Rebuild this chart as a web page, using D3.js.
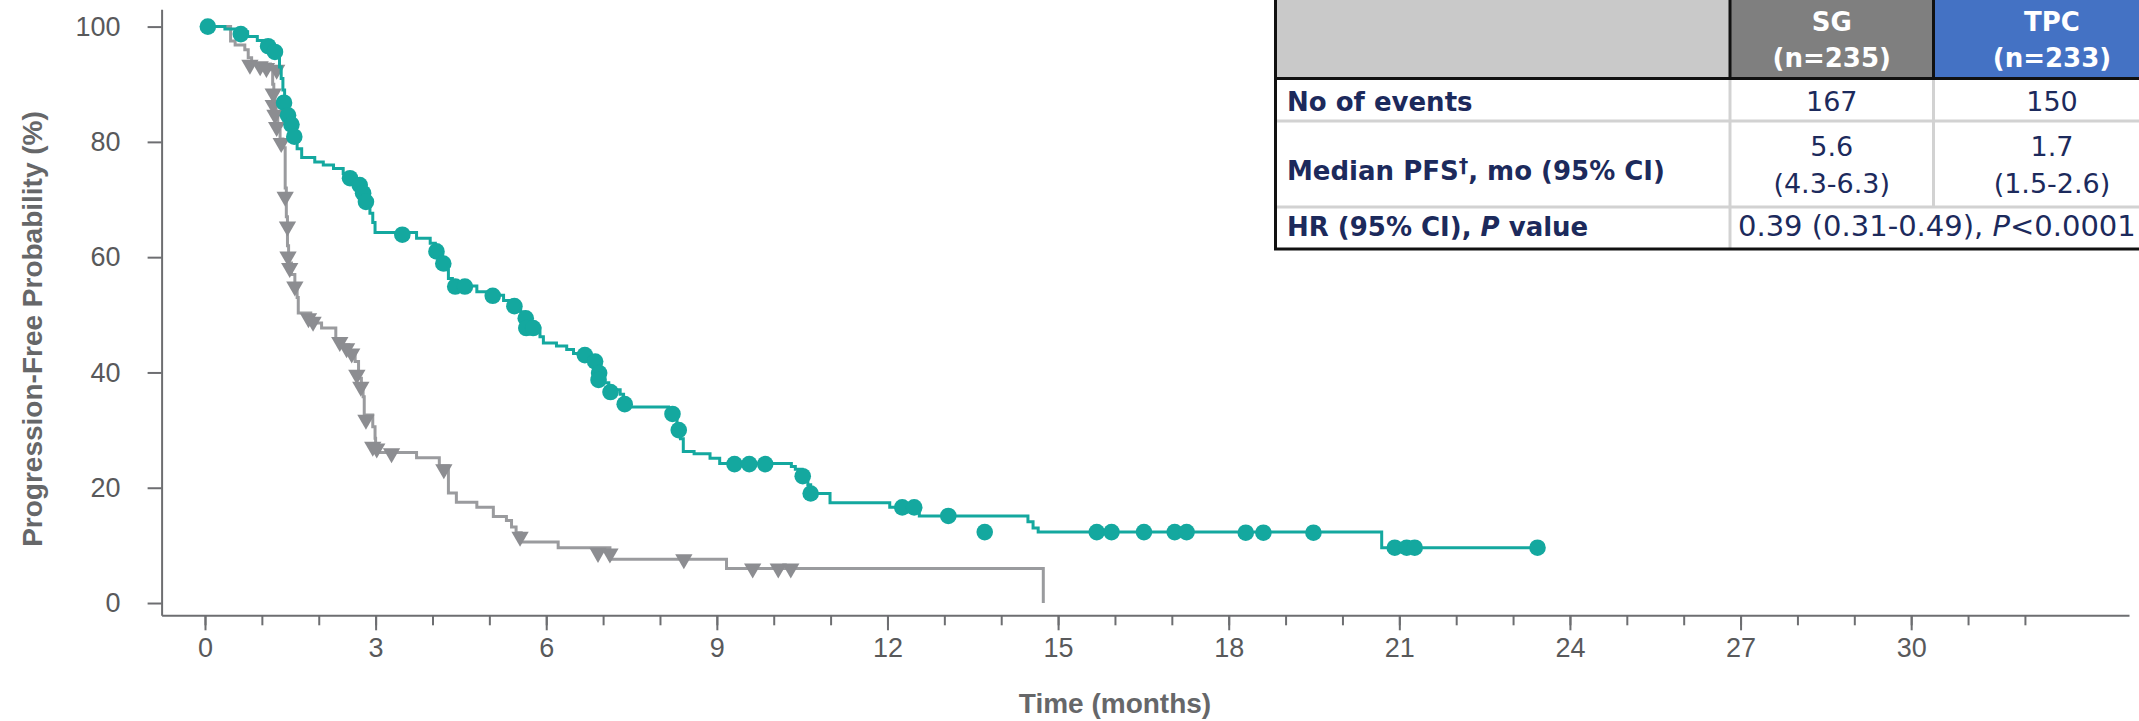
<!DOCTYPE html>
<html>
<head>
<meta charset="utf-8">
<script src="https://cdn.jsdelivr.net/npm/d3@7"></script>
<style>
  body { margin: 0; background: #fff; }
  svg { display: block; }
</style>
</head>
<body>
<div id="chart"></div>
<script>
// SG (teal) Kaplan-Meier steps
const sgStepTime = [0, 0.35, 0.55, 0.75, 0.92, 1.05, 1.17, 1.28, 1.31, 1.34, 1.37, 1.40, 1.45, 1.50, 1.54, 1.58, 1.62, 1.70,
  1.93, 2.08, 2.26, 2.43, 2.58, 2.70, 2.78, 2.84, 2.90, 2.95, 2.99, 3.72, 3.96, 4.05, 4.12, 4.18, 4.23, 4.28, 4.35,
  4.78, 5.00, 5.25, 5.40, 5.55, 5.62, 5.66, 5.70, 5.89, 5.95, 6.18, 6.36, 6.48, 6.72, 6.85, 6.90, 6.93, 7.00, 7.10,
  7.30, 7.36, 7.42, 8.15, 8.25, 8.30, 8.36, 8.41, 8.60, 8.88, 9.05, 10.31, 10.38, 10.50, 10.60, 10.65, 10.99, 12.04,
  12.56, 14.47, 14.56, 14.65, 20.69, 23.43];
const sgStepSurv = [100, 99.6, 99.1, 98.3, 97.6, 96.8, 96.0, 94.8, 93.0, 91.0, 89.0, 87.0, 85.2, 83.5, 81.8, 80.2, 78.8, 77.3,
  76.5, 76.0, 75.4, 74.5, 73.3, 72.0, 70.6, 69.2, 67.6, 66.0, 64.3, 63.3, 62.4, 61.3, 60.2, 59.2, 57.8, 56.3, 55.0,
  54.0, 53.4, 52.5, 51.6, 50.5, 49.5, 48.6, 47.7, 46.2, 45.1, 44.6, 44.0, 43.3, 42.6, 41.8, 40.5, 39.3, 38.2, 37.0,
  36.2, 35.0, 34.0, 33.3, 32.3, 30.5, 28.5, 26.3, 25.9, 25.1, 24.2, 23.7, 23.2, 22.2, 20.5, 19.0, 17.4, 16.6,
  15.1, 14.1, 13.0, 12.3, 9.6, 9.6];
const sgCensorTime = [0.05, 0.63, 1.11, 1.23, 1.39, 1.46, 1.52, 1.57, 2.55, 2.72, 2.78, 2.83, 3.47, 4.07, 4.19, 4.40, 4.57,
  5.06, 5.44, 5.64, 5.65, 5.77, 6.68, 6.86, 6.93, 6.92, 7.13, 7.38, 8.22, 8.33, 9.31, 9.57, 9.85, 10.51, 10.65,
  12.26, 12.47, 13.07, 13.71, 15.68, 15.94, 16.51, 17.05, 17.26, 18.30, 18.61, 19.49, 20.92, 21.13, 21.27, 23.43];
const sgCensorSurv = [100, 98.7, 96.6, 95.6, 86.8, 84.6, 83.0, 80.9, 73.7, 72.5, 71.1, 69.6, 63.9, 61.0, 58.9, 54.9, 54.9,
  53.3, 51.5, 49.4, 47.7, 47.7, 43.0, 41.9, 39.9, 38.7, 36.6, 34.5, 32.8, 30.0, 24.1, 24.1, 24.1, 22.0, 19.0,
  16.6, 16.6, 15.1, 12.3, 12.3, 12.3, 12.3, 12.3, 12.3, 12.2, 12.2, 12.2, 9.6, 9.6, 9.6, 9.6];

// TPC (grey) Kaplan-Meier steps
const tpcStepTime = [0, 0.45, 0.53, 0.70, 0.76, 0.82, 1.15, 1.19, 1.21, 1.23, 1.25, 1.28, 1.32, 1.37, 1.41, 1.43, 1.45,
  1.47, 1.52, 1.58, 1.62, 1.64, 1.86, 1.95, 2.05, 2.30, 2.43, 2.53, 2.64, 2.70, 2.75, 2.78, 2.80, 2.95, 2.99, 3.00,
  3.72, 4.12, 4.28, 4.42, 4.78, 5.07, 5.30, 5.39, 5.47, 5.56, 6.21, 7.12, 9.17, 14.74];
const tpcStepSurv = [100, 97.5, 96.8, 96.0, 94.6, 93.5, 92.5, 90.0, 88.0, 86.0, 84.0, 82.0, 80.5, 79.0, 72.0, 67.0, 62.0,
  59.0, 57.0, 55.0, 53.0, 50.3, 49.3, 48.6, 47.7, 45.9, 44.8, 43.8, 41.9, 39.0, 37.2, 35.8, 32.6, 30.6, 28.6, 26.1,
  25.2, 23.8, 19.1, 17.5, 16.6, 15.0, 14.3, 13.2, 12.2, 10.6, 9.6, 7.6, 6.0, 0];
const tpcCensorTime = [0.79, 0.97, 1.08, 1.26, 1.20, 1.20, 1.23, 1.26, 1.34, 1.41, 1.45, 1.46, 1.49, 1.58, 1.82, 1.90,
  2.37, 2.49, 2.58, 2.67, 2.74, 2.83, 2.95, 3.02, 3.28, 4.20, 5.54, 6.91, 7.12, 8.42, 9.63, 10.08, 10.30];
const tpcCensorSurv = [93.4, 93.1, 92.8, 92.5, 88.4, 86.4, 84.7, 82.6, 79.8, 70.5, 65.3, 60.1, 58.1, 54.9, 49.4, 48.8,
  45.3, 44.2, 43.3, 39.6, 37.5, 31.8, 27.1, 26.8, 26.0, 23.2, 11.5, 8.7, 8.6, 7.6, 6.0, 6.0, 6.0];

const yTicks = [0, 20, 40, 60, 80, 100];
const xMajorTicks = [0, 3, 6, 9, 12, 15, 18, 21, 24, 27, 30];
const xMinorTicks = d3.range(0, 33);

// summary table
const tableColumns = ["SG", "TPC"];
const tableColumnN = ["(n=235)", "(n=233)"];
const rowLabels = ["No of events", "Median PFS†, mo (95% CI)", "HR (95% CI), P value"];
const eventsValues = ["167", "150"];
const medianValues = ["5.6", "1.7"];
const medianCI = ["(4.3-6.3)", "(1.5-2.6)"];
const hrValue = "0.39 (0.31-0.49), P<0.0001";

const width = 2139, height = 721;
const teal = "#14a89f", greyLine = "#9a9b9e", greyMark = "#8c8d91", axisCol = "#6d6e71", textCol = "#58595b";
const navy = "#1c2a5c";

const svg = d3.select("#chart").append("svg")
  .attr("width", width).attr("height", height)
  .style("background", "#fff");

const x = d3.scaleLinear().domain([-0.763, 33.83]).range([161.6, 2129]);
const y = d3.scaleLinear().domain([-2.13, 103]).range([615.3, 9.3]);

// axes
const yAxis = svg.append("g").attr("transform", "translate(" + x.range()[0] + ",0)")
  .call(d3.axisLeft(y).tickValues(yTicks).tickSize(14).tickSizeOuter(0).tickPadding(27));
const xAxis = svg.append("g").attr("transform", "translate(0," + y.range()[0] + ")")
  .call(d3.axisBottom(x).tickValues(xMajorTicks).tickSize(15).tickSizeOuter(0).tickPadding(8));
const xMinor = svg.append("g").attr("transform", "translate(0," + y.range()[0] + ")")
  .call(d3.axisBottom(x).tickValues(xMinorTicks).tickSize(10).tickSizeOuter(0).tickFormat(""));
xMinor.select(".domain").remove();

[yAxis, xAxis, xMinor].forEach(g => {
  g.selectAll(".domain, line").attr("stroke", axisCol).attr("stroke-width", 2);
  g.selectAll("text").attr("fill", textCol)
    .style("font-family", "'Liberation Sans', Arial, sans-serif").style("font-size", "27px");
});

svg.append("text")
  .attr("transform", "translate(42,329) rotate(-90)")
  .attr("text-anchor", "middle")
  .style("font-family", "'Liberation Sans', Arial, sans-serif").style("font-size", "28px").style("font-weight", "bold")
  .attr("fill", "#666769")
  .text("Progression-Free Probability (%)");

svg.append("text")
  .attr("x", 1115).attr("y", 713)
  .attr("text-anchor", "middle")
  .style("font-family", "'Liberation Sans', Arial, sans-serif").style("font-size", "28px").style("font-weight", "bold")
  .attr("fill", "#666769")
  .text("Time (months)");

// curves
const stepLine = d3.line().x(d => x(d[0])).y(d => y(d[1])).curve(d3.curveStepAfter);
const tpcSteps = tpcStepTime.map((t, i) => [t, tpcStepSurv[i]]);
const sgSteps = sgStepTime.map((t, i) => [t, sgStepSurv[i]]);

svg.append("path").datum(tpcSteps)
  .attr("d", stepLine).attr("fill", "none").attr("stroke", greyLine).attr("stroke-width", 3);

const tri = d3.symbol().type(d3.symbolTriangle).size(130);
svg.append("g").selectAll("path")
  .data(tpcCensorTime.map((t, i) => [t, tpcCensorSurv[i]]))
  .join("path")
  .attr("d", tri)
  .attr("transform", d => "translate(" + x(d[0]) + "," + y(d[1]) + ") rotate(180)")
  .attr("fill", greyMark);

svg.append("path").datum(sgSteps)
  .attr("d", stepLine).attr("fill", "none").attr("stroke", teal).attr("stroke-width", 3);

svg.append("g").selectAll("circle")
  .data(sgCensorTime.map((t, i) => [t, sgCensorSurv[i]]))
  .join("circle")
  .attr("cx", d => x(d[0])).attr("cy", d => y(d[1])).attr("r", 8.3)
  .attr("fill", teal);

// table
const colX = [1275.5, 1730, 1933.5, 2172];
const rowY = [-3, 78.5, 121, 207, 249];
const tbl = svg.append("g").style("font-family", "'DejaVu Sans', Verdana, sans-serif");

tbl.append("rect").attr("x", colX[0]).attr("y", rowY[0]).attr("width", colX[3] - colX[0]).attr("height", rowY[4] - rowY[0])
  .attr("fill", "#fff");
const headFill = ["#c9c9c9", "#7f7f7f", "#4472c4"];
headFill.forEach((c, i) => {
  tbl.append("rect").attr("x", colX[i]).attr("y", rowY[0]).attr("width", colX[i + 1] - colX[i])
    .attr("height", rowY[1] - rowY[0]).attr("fill", c);
});
// light inner grid
[rowY[2], rowY[3]].forEach(yy => {
  tbl.append("line").attr("x1", colX[0]).attr("x2", colX[3]).attr("y1", yy).attr("y2", yy)
    .attr("stroke", "#d2d2d2").attr("stroke-width", 3);
});
tbl.append("line").attr("x1", colX[1]).attr("x2", colX[1]).attr("y1", rowY[1]).attr("y2", rowY[4])
  .attr("stroke", "#d2d2d2").attr("stroke-width", 3);
tbl.append("line").attr("x1", colX[2]).attr("x2", colX[2]).attr("y1", rowY[1]).attr("y2", rowY[3])
  .attr("stroke", "#d2d2d2").attr("stroke-width", 3);
// black borders
[[colX[1], colX[1], rowY[0], rowY[1]], [colX[2], colX[2], rowY[0], rowY[1]],
 [colX[0], colX[3], rowY[1], rowY[1]]].forEach(l => {
  tbl.append("line").attr("x1", l[0]).attr("x2", l[1]).attr("y1", l[2]).attr("y2", l[3])
    .attr("stroke", "#111").attr("stroke-width", 3);
});
tbl.append("rect").attr("x", colX[0]).attr("y", rowY[0]).attr("width", colX[3] - colX[0]).attr("height", rowY[4] - rowY[0])
  .attr("fill", "none").attr("stroke", "#111").attr("stroke-width", 3);

const colMid = [(colX[1] + colX[2]) / 2, 2052];
tableColumns.forEach((c, i) => {
  tbl.append("text").attr("x", colMid[i]).attr("y", 31).attr("text-anchor", "middle")
    .attr("fill", "#fff").style("font-size", "26px").style("font-weight", "bold").text(c);
  tbl.append("text").attr("x", colMid[i]).attr("y", 67).attr("text-anchor", "middle")
    .attr("fill", "#fff").style("font-size", "26px").style("font-weight", "bold").text(tableColumnN[i]);
  tbl.append("text").attr("x", colMid[i]).attr("y", 111).attr("text-anchor", "middle")
    .attr("fill", navy).style("font-size", "27px").text(eventsValues[i]);
  tbl.append("text").attr("x", colMid[i]).attr("y", 156).attr("text-anchor", "middle")
    .attr("fill", navy).style("font-size", "27px").text(medianValues[i]);
  tbl.append("text").attr("x", colMid[i]).attr("y", 193).attr("text-anchor", "middle")
    .attr("fill", navy).style("font-size", "27px").text(medianCI[i]);
});

const labelStyle = sel => sel.attr("x", 1287).attr("fill", navy).style("font-size", "26px").style("font-weight", "bold");
tbl.append("text").call(labelStyle).attr("y", 111).text(rowLabels[0]);
const med = tbl.append("text").call(labelStyle).attr("y", 180);
med.append("tspan").text("Median PFS");
med.append("tspan").attr("dy", -8).style("font-size", "19px").text("†");
med.append("tspan").attr("dy", 8).text(", mo (95% CI)");
const hr = tbl.append("text").call(labelStyle).attr("y", 236);
hr.append("tspan").text("HR (95% CI), ");
hr.append("tspan").style("font-style", "italic").text("P");
hr.append("tspan").text(" value");

const hrParts = hrValue.split("P");
const hrt = tbl.append("text").attr("x", 1738).attr("y", 236).attr("fill", navy).style("font-size", "29px");
hrt.append("tspan").text(hrParts[0]);
hrt.append("tspan").style("font-style", "italic").text("P");
hrt.append("tspan").text(hrParts[1]);
</script>
</body>
</html>
